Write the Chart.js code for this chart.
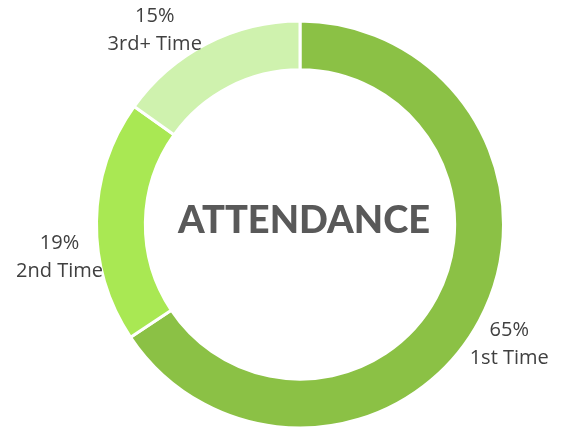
<!DOCTYPE html>
<html>
<head>
<meta charset="utf-8">
<script src="https://cdn.jsdelivr.net/npm/chart.js@4/dist/chart.umd.min.js"></script>
<style>
    html, body { margin: 0; padding: 0; background: #fff; }
    #wrap { width: 564px; height: 431px; }
</style>
</head>
<body>
<div id="wrap"><canvas id="chart" width="564" height="431"></canvas></div>
<script>
"use strict";

const categories = ["1st Time", "2nd Time", "3rd+ Time"];
const shares = [65, 19, 15];
const sliceColors = ["#8bc145", "#a9e853", "#cff2ae"];
const centerTitle = "ATTENDANCE";

// small nudges so the labels sit where the original ones do
const labelNudge = [[-1, 7], [-2, 37], [-36, 18]];

const outsideLabels = {
    id: "outsideLabels",
    afterDatasetsDraw(chart) {
        const ctx = chart.ctx;
        const arcs = chart.getDatasetMeta(0).data;
        ctx.save();
        ctx.font = "20px 'Open Sans', sans-serif";
        ctx.fillStyle = "#404040";
        ctx.textAlign = "center";
        ctx.textBaseline = "middle";
        arcs.forEach((arc, i) => {
            const mid = (arc.startAngle + arc.endAngle) / 2;
            const r = arc.outerRadius + 35;
            const x = arc.x + Math.cos(mid) * r + labelNudge[i][0];
            const y = arc.y + Math.sin(mid) * r + labelNudge[i][1];
            ctx.fillText(shares[i] + "%", x, y - 14);
            ctx.fillText(categories[i], x, y + 14);
        });
        const a = arcs[0];
        ctx.font = "900 38px Lato, sans-serif";
        ctx.fillStyle = "#595959";
        ctx.fillText(centerTitle, a.x + 4, a.y - 4);
        ctx.restore();
    }
};

new Chart(document.getElementById("chart"), {
    type: "doughnut",
    data: {
        labels: categories,
        datasets: [{
            data: shares,
            backgroundColor: sliceColors,
            borderColor: "#ffffff",
            borderWidth: 3,
            hoverOffset: 0
        }]
    },
    options: {
        responsive: false,
        animation: false,
        devicePixelRatio: 1,
        cutout: "76%",
        layout: { padding: { top: 18, bottom: 0, left: 95, right: 59 } },
        plugins: {
            legend: { display: false },
            tooltip: { enabled: false }
        }
    },
    plugins: [outsideLabels]
});
</script>
</body>
</html>
